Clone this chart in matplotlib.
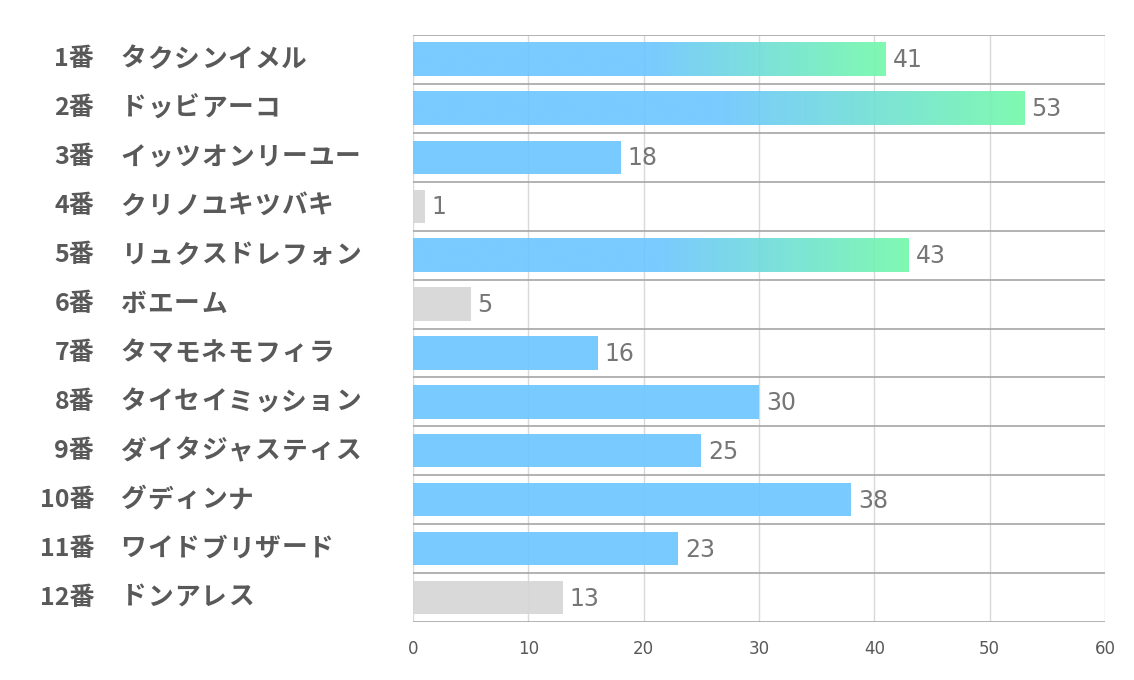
import matplotlib.pyplot as plt
import numpy as np
from matplotlib.colors import to_rgb

plt.rcParams['font.family'] = ['Noto Sans CJK JP', 'DejaVu Sans']

numbers = ['1番', '2番', '3番', '4番', '5番', '6番', '7番', '8番', '9番', '10番', '11番', '12番']
names = ['タクシンイメル', 'ドッビアーコ', 'イッツオンリーユー', 'クリノユキツバキ',
         'リュクスドレフォン', 'ボエーム', 'タマモネモフィラ', 'タイセイミッション',
         'ダイタジャスティス', 'グディンナ', 'ワイドブリザード', 'ドンアレス']
values = [41, 53, 18, 1, 43, 5, 16, 30, 25, 38, 23, 13]
# kind of bar: 'g' gradient, 'b' blue, 'n' grey
kinds = ['g', 'g', 'b', 'n', 'g', 'n', 'b', 'b', 'b', 'b', 'b', 'n']

blue = '#6BC5FF'
green = '#71F9A9'
grey = '#D5D5D5'
alpha = 0.9
num_font = ['Liberation Sans Narrow', 'DejaVu Sans']

fig = plt.figure(figsize=(11.34, 6.8), dpi=100)
ax = fig.add_axes([413/1134, 1-622/680, 692/1134, 587/680])

n = len(values)
h = 0.68

# grid
ax.set_xticks(range(0, 61, 10))
for x in range(0, 61, 10):
    ax.axvline(x, color='#D9D9D9', lw=1, zorder=1)
for i in range(n+1):
    ax.axhline(i-0.5, color='#A6A6A6', lw=1.2, zorder=1)

b_rgb = np.array(to_rgb(blue))
g_rgb = np.array(to_rgb(green))
for i, (v, k) in enumerate(zip(values, kinds)):
    if k == 'n':
        ax.barh(i, v, height=h, color=grey, alpha=alpha, zorder=2, lw=0)
    elif k == 'b':
        ax.barh(i, v, height=h, color=blue, alpha=alpha, zorder=2, lw=0)
    else:
        t = np.linspace(0, 1, 300)
        f = np.clip((t - 0.5) / 0.5, 0, 1)
        img = (b_rgb[None, :] * (1 - f[:, None]) + g_rgb[None, :] * f[:, None])[None, :, :]
        ax.imshow(img, extent=[0, v, i+h/2, i-h/2], aspect='auto', zorder=2,
                  interpolation='bilinear', alpha=alpha)
    ax.text(v + 0.6, i + 0.02, str(v), va='center', ha='left', fontsize=17,
            color='#767676', zorder=4, family=num_font)
ax.set_xlim(0, 60)
ax.set_ylim(n-0.5, -0.5)

ax.set_yticks([])
ax.tick_params(axis='x', length=0, labelsize=12, labelcolor='#595959', pad=13)
for lab in ax.get_xticklabels():
    lab.set_family(num_font)
for s in ax.spines.values():
    s.set_visible(False)

# left labels
adv = 26.8
for i in range(n):
    yc = 1 - (35 + (i + 0.5) * 587 / n) / 680
    fig.text(94/1134, yc, numbers[i], ha='right', va='center', fontsize=18,
             fontweight='bold', color='#595959')
    for j, ch in enumerate(names[i]):
        fig.text((120 + adv * (j + 0.5)) / 1134, yc, ch, ha='center', va='center',
                 fontsize=18.5, fontweight='bold', color='#595959')

fig.savefig('out.png', dpi=100, facecolor='white')
